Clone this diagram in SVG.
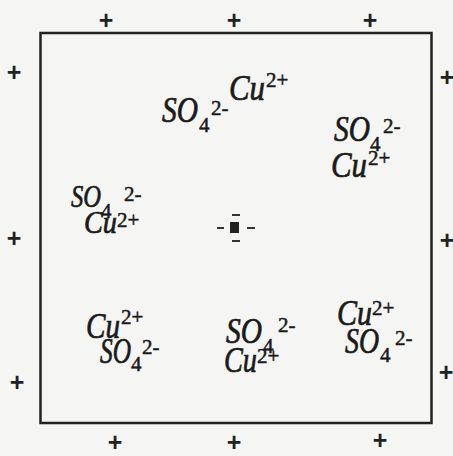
<svg xmlns="http://www.w3.org/2000/svg" width="453" height="456" viewBox="0 0 453 456">
<style>
.ion{font-family:"Liberation Serif","Times New Roman",serif;font-style:italic;font-size:35px;fill:#1a1a1a;stroke:#1a1a1a;stroke-width:0.7}
.sm{font-size:31px}
.s{font-family:"Liberation Serif","Times New Roman",serif;font-style:normal;font-size:21px;fill:#1a1a1a;stroke:#1a1a1a;stroke-width:0.5}
.p{font-family:"Liberation Sans",Arial,sans-serif;font-weight:bold;font-size:25px;fill:#222;text-anchor:middle}
</style>
<rect x="0" y="0" width="453" height="456" fill="#f5f5f3"/>
<g id="box"><rect x="40.5" y="33" width="391" height="390" fill="none" stroke="#222" stroke-width="2.5"/></g>
<g id="charges">
<text class="p" x="106" y="29">+</text>
<text class="p" x="234" y="29">+</text>
<text class="p" x="370" y="29">+</text>
<text class="p" x="115" y="451">+</text>
<text class="p" x="234" y="451">+</text>
<text class="p" x="380" y="449">+</text>
<text class="p" x="14" y="81">+</text>
<text class="p" x="14" y="247">+</text>
<text class="p" x="17" y="391">+</text>
<text class="p" x="447" y="86">+</text>
<text class="p" x="447" y="249">+</text>
<text class="p" x="446" y="381">+</text>
</g>
<g id="ionA">
<text class="ion" x="162" y="122" textLength="36" lengthAdjust="spacingAndGlyphs">SO</text><text class="s" x="199" y="132">4</text><text class="s" x="211" y="115">2-</text>
<text class="ion" x="229" y="100" textLength="36" lengthAdjust="spacingAndGlyphs">Cu</text><text class="s" x="266" y="87">2+</text>
</g>
<g id="ionB">
<text class="ion" x="334" y="141" textLength="36" lengthAdjust="spacingAndGlyphs">SO</text><text class="s" x="370" y="151">4</text><text class="s" x="383" y="133">2-</text>
<text class="ion" x="331" y="177" textLength="36" lengthAdjust="spacingAndGlyphs">Cu</text><text class="s" x="368" y="165">2+</text>
</g>
<g id="ionC">
<text class="ion sm" x="71" y="207" textLength="30" lengthAdjust="spacingAndGlyphs">SO</text><text class="s" x="101" y="218">4</text><text class="s" x="124" y="201">2-</text>
<text class="ion sm" x="84" y="233" textLength="33" lengthAdjust="spacingAndGlyphs">Cu</text><text class="s" x="117" y="227">2+</text>
</g>
<g id="center">
<rect x="230" y="222" width="9" height="11" fill="#222"/>
<path d="M217 228h7M247 228h8M232 215h8M232 241h8" stroke="#333" stroke-width="2"/>
</g>
<g id="ionD">
<text class="ion" x="86" y="338" textLength="34" lengthAdjust="spacingAndGlyphs">Cu</text><text class="s" x="121" y="324">2+</text>
<text class="ion" x="100" y="363" textLength="31" lengthAdjust="spacingAndGlyphs">SO</text><text class="s" x="131" y="371">4</text><text class="s" x="142" y="354">2-</text>
</g>
<g id="ionE">
<text class="ion" x="226" y="343" textLength="36" lengthAdjust="spacingAndGlyphs">SO</text><text class="s" x="263" y="353">4</text><text class="s" x="278" y="332">2-</text>
<text class="ion" x="224" y="372" textLength="33" lengthAdjust="spacingAndGlyphs">Cu</text><text class="s" x="257" y="363">2+</text>
</g>
<g id="ionF">
<text class="ion" x="337" y="325" textLength="35" lengthAdjust="spacingAndGlyphs">Cu</text><text class="s" x="372" y="315">2+</text>
<text class="ion" x="345" y="353" textLength="34" lengthAdjust="spacingAndGlyphs">SO</text><text class="s" x="380" y="362">4</text><text class="s" x="395" y="345">2-</text>
</g>
</svg>
